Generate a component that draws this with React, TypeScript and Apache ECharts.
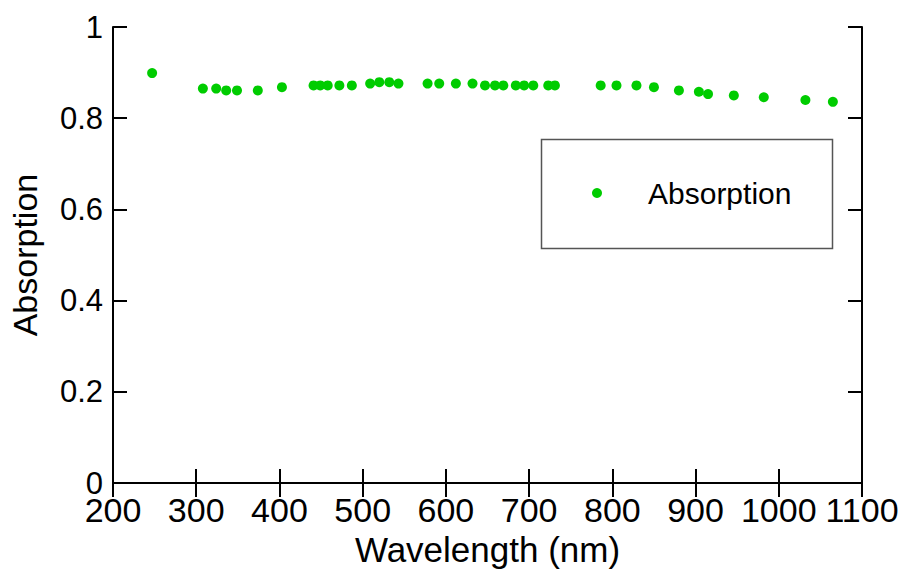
import React, { useEffect, useRef } from "react";
import * as echarts from "echarts";

const wavelengths = [
  247, 308, 324, 336, 349, 374, 403, 441, 449, 458, 472, 487, 509, 520, 532, 543,
  578, 592, 612, 632, 647, 659, 669, 684, 694, 705, 723, 731, 786, 805, 829, 850,
  880, 904, 915, 946, 982, 1032, 1065,
];
const absorption = [
  0.899, 0.865, 0.865, 0.861, 0.861, 0.861, 0.868, 0.872, 0.872, 0.872, 0.872, 0.872, 0.876, 0.879, 0.879, 0.876,
  0.876, 0.876, 0.876, 0.876, 0.872, 0.872, 0.872, 0.872, 0.872, 0.872, 0.872, 0.872, 0.872, 0.872, 0.872, 0.868,
  0.861, 0.858, 0.853, 0.850, 0.846, 0.840, 0.836,
];
const seriesName = "Absorption";
const xAxisTitle = "Wavelength (nm)";
const yAxisTitle = "Absorption";

const FONT = "'Liberation Sans', Arial, sans-serif";

export default function App() {
  const ref = useRef<HTMLDivElement>(null);
  useEffect(() => {
    if (!ref.current) return;
    const chart = echarts.init(ref.current, undefined, { renderer: "svg" });
    const axisLine = { show: true, lineStyle: { color: "#000", width: 2 } };
    const axisTick = { show: true, inside: true, length: 14, lineStyle: { color: "#000", width: 2 } };
    chart.setOption({
      animation: false,
      backgroundColor: "#fff",
      textStyle: { fontFamily: FONT },
      grid: { left: 113, right: 42, top: 27, bottom: 79 },
      xAxis: [
        {
          type: "value",
          min: 200,
          max: 1100,
          interval: 100,
          name: xAxisTitle,
          nameLocation: "middle",
          nameGap: 46,
          nameTextStyle: { fontSize: 35, color: "#000", fontFamily: FONT },
          axisLine,
          axisTick,
          splitLine: { show: false },
          axisLabel: {
            fontSize: 34,
            color: "#000",
            margin: 10,
            fontFamily: FONT,
            formatter: (v: number) => String(v),
          },
        },
        {
          type: "value",
          position: "top",
          min: 200,
          max: 1100,
          interval: 100,
          axisLine,
          axisTick,
          splitLine: { show: false },
          axisLabel: { show: false },
        },
      ],
      yAxis: [
        {
          type: "value",
          min: 0,
          max: 1,
          interval: 0.2,
          name: yAxisTitle,
          nameLocation: "middle",
          nameGap: 71,
          nameRotate: 90,
          nameTextStyle: { fontSize: 34, color: "#000", fontFamily: FONT },
          axisLine,
          axisTick,
          splitLine: { show: false },
          axisLabel: {
            fontSize: 31,
            color: "#000",
            margin: 10,
            fontFamily: FONT,
            formatter: (v: number) => String(Math.round(v * 10) / 10),
          },
        },
        {
          type: "value",
          position: "right",
          min: 0,
          max: 1,
          interval: 0.2,
          axisLine,
          axisTick,
          splitLine: { show: false },
          axisLabel: { show: false },
        },
      ],
      legend: {
        left: 592,
        top: 178,
        padding: 0,
        icon: "circle",
        itemWidth: 10,
        itemHeight: 10,
        textStyle: {
          fontSize: 30,
          lineHeight: 30,
          color: "#000",
          fontFamily: FONT,
          padding: [0, 0, 0, 41],
        },
        data: [seriesName],
      },
      graphic: [
        {
          type: "rect",
          shape: { x: 541.5, y: 139.5, width: 291, height: 109 },
          style: { fill: "none", stroke: "#555", lineWidth: 1.5 },
          z: 10,
        },
      ],
      series: [
        {
          name: seriesName,
          type: "scatter",
          symbol: "circle",
          symbolSize: 10,
          itemStyle: { color: "#00cc00", opacity: 1 },
          data: wavelengths.map((w, i) => [w, absorption[i]]),
        },
      ],
    });
    return () => chart.dispose();
  }, []);
  return (
    <div
      ref={ref}
      style={{ position: "fixed", left: 0, top: 0, width: 904, height: 572 }}
    />
  );
}
